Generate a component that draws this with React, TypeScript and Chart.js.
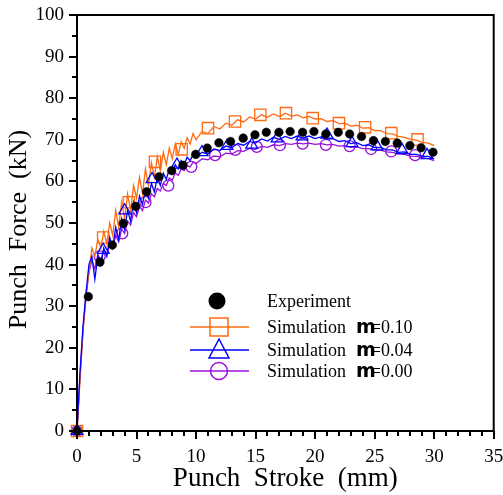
import { useEffect, useRef } from "react";
import { Chart, registerables } from "chart.js";

Chart.register(...registerables);

const SERIF = '"Liberation Serif", "Times New Roman", serif';

// Simulation stroke positions (mm)
const STROKE = [
  0, 0.25, 0.5, 0.75, 1, 1.25, 1.5, 1.75, 2, 2.25, 2.5, 2.75, 3, 3.25, 3.5, 3.75, 4, 4.25, 4.5, 4.75,
  5, 5.25, 5.5, 5.75, 6, 6.25, 6.5, 6.75, 7, 7.25, 7.5, 7.75, 8, 8.25, 8.5, 8.75, 9, 9.25, 9.5, 9.75, 10,
  10.5, 11, 11.5, 12, 12.5, 13, 13.5, 14, 14.5, 15, 15.5, 16, 16.5, 17, 17.5, 18, 18.5, 19, 19.5, 20,
  20.5, 21, 21.5, 22, 22.5, 23, 23.5, 24, 24.5, 25, 25.5, 26, 26.5, 27, 27.5, 28, 28.5, 29, 29.5, 30,
];

// Simulation m=0.10 (kN)
const FORCE_M010 = [
  0, 12, 24, 33, 38, 44, 42, 46, 44, 48, 45, 50, 47, 53, 49, 55, 51, 57, 53, 59,
  56, 61, 57, 63, 59, 64.5, 61, 66, 62.5, 67, 64, 68, 65.5, 69, 66.5, 69.5, 68, 70.5, 69, 71.5, 70,
  72, 71.5, 73.2, 72.6, 74, 73.5, 74.8, 74.3, 75.5, 75, 76, 75.4, 76.2, 75.6, 76.4, 75.7, 76, 75.3, 75.6, 75,
  75.1, 74.4, 74.6, 73.9, 74, 73.3, 73.5, 72.8, 72.9, 72.2, 72.2, 71.5, 71.4, 70.8, 70.6, 70.1, 69.9, 69.4, 69.2, 68.6,
];

// Simulation m=0.04 (kN)
const FORCE_M004 = [
  0, 14, 25, 33, 40, 42, 36.5, 42, 40, 44, 42, 46.5, 44, 49, 46, 51, 48.5, 53, 50.5, 55,
  52.5, 56.5, 54.5, 58, 56, 59.5, 57.5, 61, 59, 62, 60.5, 63, 61.8, 64, 63, 65, 64, 65.8, 65, 66.5, 65.8,
  67, 66.6, 67.8, 67.4, 68.5, 68.1, 69.1, 68.7, 69.6, 69.2, 70.2, 69.7, 70.6, 70.1, 70.8, 70.3, 70.9, 70.4, 70.9, 70.3,
  70.7, 70.1, 70.3, 69.6, 69.8, 69.1, 69.3, 68.6, 68.8, 68.1, 68.2, 67.6, 67.6, 67, 67.1, 66.5, 66.5, 66, 66, 65.4,
];

// Simulation m=0.00 (kN)
const FORCE_M000 = [
  0, 13, 24, 32, 38, 41, 39, 42.5, 41, 43.5, 42.5, 45, 44, 47, 45.5, 48.5, 47.5, 50.5, 49.5, 52.5,
  51.5, 54, 53, 55.5, 54.8, 57, 56.3, 58.3, 57.7, 59.5, 59, 60.8, 60.3, 62, 61.5, 63, 62.6, 63.8, 63.5, 64.6, 64.3,
  65.4, 65.2, 66.1, 65.9, 66.8, 66.6, 67.4, 67.2, 67.9, 67.7, 68.4, 68.2, 68.8, 68.6, 69.1, 68.9, 69.2, 69, 69.2, 68.9,
  69.1, 68.8, 68.9, 68.5, 68.6, 68.2, 68.3, 67.9, 67.9, 67.5, 67.5, 67.1, 67, 66.6, 66.5, 66.1, 66, 65.7, 65.5, 65,
];

// Experiment
const EXP_STROKE = [0, 0.95, 1.93, 2.97, 3.89, 4.93, 5.85, 6.9, 7.95, 8.9, 9.97, 10.94, 11.92, 12.9, 13.96, 14.95, 15.9, 16.96, 17.9, 18.95, 19.9, 20.9, 21.94, 22.9, 23.9, 24.9, 25.9, 26.9, 27.96, 28.9, 29.9];
const EXP_FORCE = [0, 32.3, 40.6, 44.7, 49.9, 54, 57.5, 61.1, 62.6, 63.9, 66.5, 68, 69.3, 69.6, 70.4, 71.2, 71.8, 71.8, 72, 71.8, 72, 71.4, 71.8, 71.4, 70.8, 69.8, 69.6, 69.2, 68.6, 68.1, 67];

// Marker positions on simulation curves
const SQ_STROKE = [0, 2.2, 4.35, 6.55, 8.79, 11.0, 13.27, 15.4, 17.55, 19.8, 22.0, 24.2, 26.4, 28.6];
const SQ_FORCE = [0, 46.5, 55, 64.7, 67.7, 72.8, 74.4, 76, 76.4, 75.2, 74, 73, 71.6, 70.1];
const TRI_STROKE = [0, 2.2, 4.0, 6.3, 8.4, 10.5, 12.6, 14.67, 16.8, 18.9, 21, 23.1, 25.2, 27.3, 29.4];
const TRI_FORCE = [0, 43.5, 53, 60.5, 64, 67, 68.5, 68.8, 70.3, 70.8, 71.2, 69.2, 68.4, 67.5, 66.3];
const CIR_STROKE = [0, 1.9, 3.8, 5.75, 7.67, 9.6, 11.6, 13.3, 15.1, 17.04, 18.95, 20.9, 22.9, 24.7, 26.4, 28.4];
const CIR_FORCE = [0, 42, 47.5, 55, 59, 63.5, 66.3, 67.6, 68.3, 68.7, 69.1, 68.8, 68.5, 67.8, 67.2, 66.3];

const SERIES_NAMES = ["Experiment", "Simulation", "Simulation", "Simulation"];
const SERIES_COEF = ["", "=0.10", "=0.04", "=0.00"];
const X_TITLE = "Punch  Stroke  (mm)";
const Y_TITLE = "Punch  Force  (kN)  ";

const ORANGE = "#FF6A10";
const BLUE = "#0000FF";
const PURPLE = "#9A10D8";
const BLACK = "#000000";

const pts = (xs: number[], ys: number[]) => xs.map((x, i) => ({ x, y: ys[i] }));

const framePlugin = {
  id: "frame",
  afterDatasetsDraw(chart: any) {
    const { ctx, chartArea: a, scales } = chart;
    const xs = scales.x;
    const ys = scales.y;
    ctx.save();
    ctx.strokeStyle = BLACK;
    ctx.lineWidth = 2;
    ctx.beginPath();
    ctx.rect(a.left, a.top, a.right - a.left, a.bottom - a.top);
    ctx.stroke();
    ctx.beginPath();
    for (let v = 0; v <= 35; v += 1) {
      const p = Math.round(xs.getPixelForValue(v));
      const len = v % 5 === 0 ? 8 : 5;
      ctx.moveTo(p, a.bottom);
      ctx.lineTo(p, a.bottom + len);
    }
    for (let v = 0; v <= 100; v += 5) {
      const p = Math.round(ys.getPixelForValue(v));
      const len = v % 10 === 0 ? 8 : 5;
      ctx.moveTo(a.left, p);
      ctx.lineTo(a.left - len, p);
    }
    ctx.stroke();
    ctx.restore();
  },
};

const legendPlugin = {
  id: "customLegend",
  afterDraw(chart: any) {
    const { ctx } = chart;
    const rows = [301, 327, 350, 371];
    const colors = [BLACK, ORANGE, BLUE, PURPLE];
    ctx.save();
    rows.forEach((y, i) => {
      const cx = 219;
      ctx.lineWidth = 1.5;
      ctx.strokeStyle = colors[i];
      if (i === 0) {
        ctx.fillStyle = BLACK;
        ctx.beginPath();
        ctx.arc(217, y, 8.5, 0, Math.PI * 2);
        ctx.fill();
      } else {
        ctx.beginPath();
        ctx.moveTo(190, y);
        ctx.lineTo(249, y);
        ctx.stroke();
        ctx.beginPath();
        if (i === 1) {
          ctx.rect(cx - 9, y - 9, 18, 18);
        } else if (i === 2) {
          ctx.moveTo(cx, y - 11);
          ctx.lineTo(cx + 10, y + 8);
          ctx.lineTo(cx - 10, y + 8);
          ctx.closePath();
        } else {
          ctx.arc(cx, y, 8.5, 0, Math.PI * 2);
        }
        ctx.stroke();
      }
      ctx.fillStyle = BLACK;
      ctx.textBaseline = "middle";
      ctx.textAlign = "left";
      ctx.font = `18px ${SERIF}`;
      ctx.fillText(SERIES_NAMES[i], 267, y + 1);
      if (SERIES_COEF[i]) {
        ctx.font = `bold 19px "DejaVu Sans", sans-serif`;
        ctx.fillText("m", 356, y + 1);
        const mw = ctx.measureText("m").width;
        ctx.font = `18px ${SERIF}`;
        ctx.fillText(SERIES_COEF[i], 356 + mw - 5, y + 1);
      }
    });
    ctx.restore();
  },
};

export default function App() {
  const ref = useRef<HTMLCanvasElement | null>(null);

  useEffect(() => {
    if (!ref.current) return;
    const lineDs = (label: string, ys: number[], color: string, order: number) => ({
      type: "line" as const,
      label,
      data: pts(STROKE, ys),
      borderColor: color,
      backgroundColor: color,
      borderWidth: 1.3,
      pointRadius: 0,
      tension: 0,
      clip: false as any,
      order,
    });
    const markDs = (label: string, xs: number[], ys: number[], color: string, style: string, r: number, order: number, fill = false) => ({
      type: "scatter" as const,
      label,
      data: pts(xs, ys),
      showLine: false,
      pointStyle: style,
      pointRadius: r,
      pointBorderWidth: fill ? 0.5 : 1.3,
      borderColor: color,
      backgroundColor: fill ? color : "rgba(0,0,0,0)",
      clip: false as any,
      order,
    });
    const chart = new Chart(ref.current, {
      type: "scatter",
      data: {
        datasets: [
          markDs("Experiment", EXP_STROKE, EXP_FORCE, BLACK, "circle", 4.3, 0, true),
          lineDs("m=0.04", FORCE_M004, BLUE, 1),
          markDs("m=0.04 markers", TRI_STROKE, TRI_FORCE, BLUE, "triangle", 6.8, 1),
          lineDs("m=0.10", FORCE_M010, ORANGE, 2),
          markDs("m=0.10 markers", SQ_STROKE, SQ_FORCE, ORANGE, "rect", 8, 2),
          lineDs("m=0.00", FORCE_M000, PURPLE, 3),
          markDs("m=0.00 markers", CIR_STROKE, CIR_FORCE, PURPLE, "circle", 5.5, 3),
        ] as any,
      },
      options: {
        responsive: false,
        animation: false,
        events: [],
        layout: { padding: { top: 15, right: 9, left: 0, bottom: 0 } },
        plugins: { legend: { display: false }, tooltip: { enabled: false } },
        scales: {
          x: {
            type: "linear",
            min: 0,
            max: 35,
            grid: { display: false, drawTicks: false },
            border: { display: false },
            ticks: { stepSize: 5, color: BLACK, font: { family: SERIF, size: 19 }, padding: 15, maxRotation: 0 },
            title: { display: true, text: X_TITLE, color: BLACK, font: { family: SERIF, size: 27 }, padding: { top: 0, bottom: 0 } },
            afterFit: (s: any) => {
              s.height = 64;
              s.paddingLeft = 0;
              s.paddingRight = 0;
            },
          },
          y: {
            type: "linear",
            min: 0,
            max: 100,
            grid: { display: false, drawTicks: false },
            border: { display: false },
            ticks: { stepSize: 10, color: BLACK, font: { family: SERIF, size: 19 }, padding: 13 },
            title: { display: true, text: Y_TITLE, color: BLACK, font: { family: SERIF, size: 26 }, padding: { top: 4, bottom: 0 } },
            afterFit: (s: any) => {
              s.width = 77;
              s.paddingTop = 0;
              s.paddingBottom = 0;
            },
          },
        },
      },
      plugins: [framePlugin, legendPlugin],
    });
    return () => chart.destroy();
  }, []);

  return (
    <div style={{ position: "absolute", left: 0, top: 0, width: 503, height: 495, background: "#fff" }}>
      <canvas ref={ref} width={503} height={495} />
    </div>
  );
}
